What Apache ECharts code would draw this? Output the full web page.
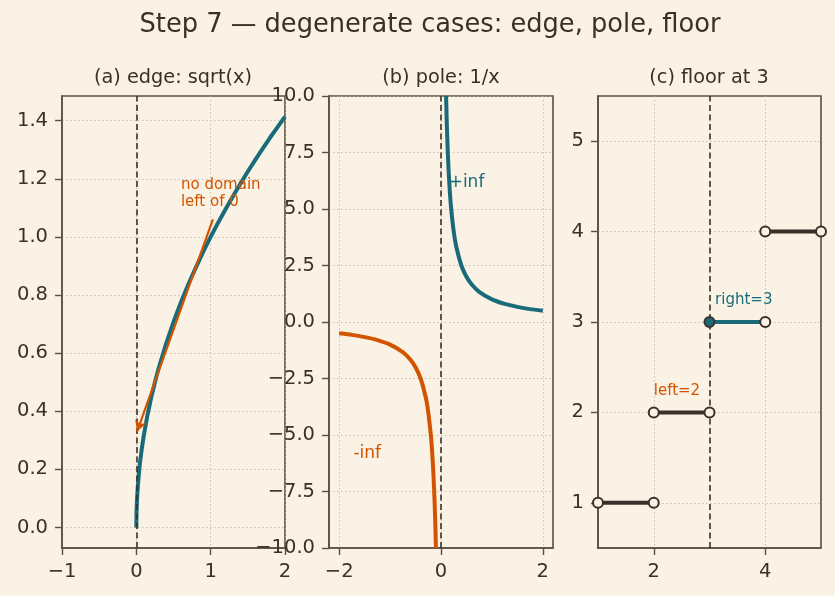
<!DOCTYPE html>
<html>
<head>
<meta charset="utf-8">
<script src="https://cdn.jsdelivr.net/npm/echarts@6/dist/echarts.min.js"></script>
<style>
  html, body { margin: 0; padding: 0; background: #faf2e4; }
  #chart { width: 835px; height: 596px; }
</style>
</head>
<body>
<div id="chart"></div>
<script>
// panel (a): sqrt(x)
const sqrtX = [0, 0.002, 0.005, 0.01, 0.02, 0.035, 0.05, 0.075, 0.1, 0.15, 0.2, 0.25, 0.3, 0.4, 0.5, 0.6, 0.7, 0.8, 0.9, 1.0, 1.1, 1.2, 1.3, 1.4, 1.5, 1.6, 1.7, 1.8, 1.9, 2.0]
const sqrtY = [0, 0.045, 0.071, 0.1, 0.141, 0.187, 0.224, 0.274, 0.316, 0.387, 0.447, 0.5, 0.548, 0.632, 0.707, 0.775, 0.837, 0.894, 0.949, 1.0, 1.049, 1.095, 1.140, 1.183, 1.225, 1.265, 1.304, 1.342, 1.378, 1.414]
const arrowFrom = [1.03, 1.06]
const arrowTo = [0.01, 0.33]

// panel (b): 1/x branches
const posX = [0.1, 0.11, 0.125, 0.15, 0.175, 0.2, 0.25, 0.3, 0.4, 0.5, 0.6, 0.75, 1.0, 1.25, 1.5, 1.75, 2.0]
const posY = [10, 9.09, 8, 6.67, 5.71, 5, 4, 3.33, 2.5, 2, 1.67, 1.33, 1, 0.8, 0.67, 0.57, 0.5]
const negX = [-2, -1.75, -1.5, -1.25, -1, -0.75, -0.6, -0.5, -0.4, -0.3, -0.25, -0.2, -0.175, -0.15, -0.125, -0.11, -0.1]
const negY = [-0.5, -0.57, -0.67, -0.8, -1, -1.33, -1.67, -2, -2.5, -3.33, -4, -5, -5.71, -6.67, -8, -9.09, -10]

// panel (c): floor steps
const stepStart = [1, 2, 3, 4]
const stepEnd = [2, 3, 4, 5]
const stepValue = [1, 2, 3, 4]
const floorAt = 3

// tick labels
const aXTicks = [-1, 0, 1, 2]
const aYTicks = [0, 0.2, 0.4, 0.6, 0.8, 1.0, 1.2, 1.4]
const bXTicks = [-2, 0, 2]
const bYTicks = [-10, -7.5, -5, -2.5, 0, 2.5, 5, 7.5, 10]
const cXTicks = [2, 4]
const cYTicks = [1, 2, 3, 4, 5]

const BG = '#faf2e4'
const INK = '#3a3028'
const SPINE = '#5b4f44'
const GRIDC = '#bdb3a3'
const TEAL = '#1a6b7a'
const ORANGE = '#d35400'
const DARK = '#3a3029'
const FONT = '"DejaVu Sans", sans-serif'

const zip = (xs, ys) => xs.map((x, i) => [x, ys[i]])
const fmt = (d) => (v) => Number(v).toFixed(d).replace('-', '\u2212')

function axis(gridIndex, min, max, ticks, dec) {
  return {
    type: 'value', gridIndex, min, max,
    axisLine: { show: true, onZero: false, lineStyle: { color: SPINE, width: 1.6 } },
    axisTick: { show: true, length: 7, customValues: ticks, lineStyle: { color: SPINE, width: 1.4 } },
    axisLabel: { customValues: ticks, formatter: fmt(dec), color: INK, fontSize: 19.5, fontFamily: FONT, margin: 14, showMinLabel: true, showMaxLabel: true },
    splitLine: { show: true, lineStyle: { color: GRIDC, width: 0.8, type: [1.5, 2.5] } }
  }
}

const grids = [
  { left: 62, top: 96, width: 223, height: 452 },
  { left: 329, top: 96, width: 224, height: 452 },
  { left: 598, top: 96, width: 223, height: 452 }
].map((g) => ({ ...g, show: true, borderColor: SPINE, borderWidth: 1.6, backgroundColor: 'transparent' }))

const dashed = (x) => ({
  silent: true, symbol: 'none', label: { show: false },
  lineStyle: { color: DARK, width: 1.6, type: [6, 3.5] },
  data: [{ xAxis: x }]
})

function note(ax, pos, text, color, size, vAlign) {
  return {
    type: 'scatter', xAxisIndex: ax, yAxisIndex: ax, symbolSize: 0, z: 6, silent: true,
    data: [pos],
    itemStyle: { opacity: 1 },
    label: {
      show: true, position: [0, 0], align: 'left', verticalAlign: vAlign, opacity: 1,
      formatter: text, color, fontSize: size, fontFamily: FONT, lineHeight: size * 1.15
    }
  }
}

const series = []

// (a)
series.push({
  type: 'line', xAxisIndex: 0, yAxisIndex: 0, data: zip(sqrtX, sqrtY),
  showSymbol: false, lineStyle: { color: TEAL, width: 4 }, z: 3,
  markLine: dashed(0)
})
series.push({
  type: 'line', xAxisIndex: 0, yAxisIndex: 0, data: [arrowTo], showSymbol: false, z: 4,
  lineStyle: { width: 0 },
  markLine: {
    silent: true, symbol: 'none', label: { show: false },
    lineStyle: { color: ORANGE, width: 2.2, type: 'solid' },
    data: [[{ coord: arrowFrom }, { coord: arrowTo, symbol: 'arrow', symbolSize: [9, 11] }]]
  }
})
series.push(note(0, [0.6, 1.09], 'no domain\nleft of 0', ORANGE, 15, 'bottom'))

// (b)
series.push({
  type: 'line', xAxisIndex: 1, yAxisIndex: 1, data: zip(negX, negY),
  showSymbol: false, smooth: 0.2, lineStyle: { color: ORANGE, width: 4 }, z: 3,
  markLine: dashed(0)
})
series.push({
  type: 'line', xAxisIndex: 1, yAxisIndex: 1, data: zip(posX, posY),
  showSymbol: false, smooth: 0.2, lineStyle: { color: TEAL, width: 4 }, z: 3
})
series.push(note(1, [0.15, 6.15], '+inf', TEAL, 17, 'middle'))
series.push(note(1, [-1.72, -5.8], '-inf', ORANGE, 17, 'middle'))

// (c)
stepStart.forEach((s, i) => {
  const hit = s === floorAt
  series.push({
    type: 'line', xAxisIndex: 2, yAxisIndex: 2,
    data: [[s, stepValue[i]], [stepEnd[i], stepValue[i]]],
    showSymbol: false, lineStyle: { color: hit ? TEAL : DARK, width: 4 }, z: 3,
    markLine: i === 0 ? dashed(floorAt) : undefined
  })
})
const openPts = []
stepStart.forEach((s, i) => {
  if (s !== floorAt) openPts.push([s, stepValue[i]])
  openPts.push([stepEnd[i], stepValue[i]])
})
series.push({
  type: 'scatter', xAxisIndex: 2, yAxisIndex: 2, data: openPts, symbolSize: 10, z: 5,
  itemStyle: { color: BG, borderColor: DARK, borderWidth: 2, opacity: 1 }
})
series.push({
  type: 'scatter', xAxisIndex: 2, yAxisIndex: 2,
  data: stepStart.map((s, i) => [s, stepValue[i]]).filter((p) => p[0] === floorAt),
  symbolSize: 10, z: 5, itemStyle: { color: TEAL, borderColor: DARK, borderWidth: 2, opacity: 1 }
})
series.push(note(2, [2.0, 2.14], 'left=2', ORANGE, 15, 'bottom'))
series.push(note(2, [3.1, 3.15], 'right=3', TEAL, 15, 'bottom'))

const titleText = (x, y, text, size) => ({
  type: 'text', x, y, silent: true,
  style: { text, fill: INK, font: `${size}px ${FONT}`, textAlign: 'center', textVerticalAlign: 'middle' }
})

const chart = echarts.init(document.getElementById('chart'), null, { renderer: 'canvas' })
chart.setOption({
  backgroundColor: BG,
  animation: false,
  grid: grids,
  xAxis: [
    axis(0, -1, 2, aXTicks, 0),
    axis(1, -2.2, 2.2, bXTicks, 0),
    axis(2, 1, 5, cXTicks, 0)
  ],
  yAxis: [
    axis(0, -0.0707, 1.4849, aYTicks, 1),
    axis(1, -10, 10, bYTicks, 1),
    axis(2, 0.5, 5.5, cYTicks, 0)
  ],
  graphic: [
    titleText(430, 25, 'Step 7 \u2014 degenerate cases: edge, pole, floor', 25.7),
    titleText(173, 78, '(a) edge: sqrt(x)', 19.3),
    titleText(441, 78, '(b) pole: 1/x', 19.3),
    titleText(709, 78, '(c) floor at 3', 19.3)
  ],
  series
})
</script>
</body>
</html>
